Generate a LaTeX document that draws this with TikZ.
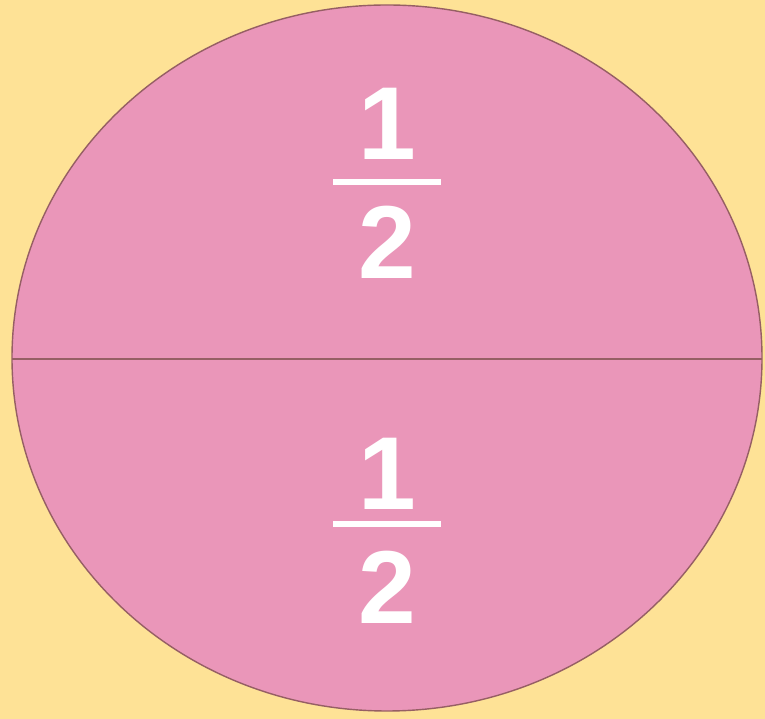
\documentclass[tikz,border=0pt]{standalone}
\usepackage{fontspec}
\setmainfont{Liberation Sans}
\usepackage{xcolor}
\usetikzlibrary{calc}
\definecolor{bgcolor}{RGB}{254,226,150}
\definecolor{halfpink}{RGB}{234,150,185}
\definecolor{halfborder}{RGB}{150,95,100}

\begin{document}
\begin{tikzpicture}[
    fracdigit/.style={text=white, font=\fontsize{59}{60}\selectfont\bfseries, inner sep=0pt, text height=1.5cm, text depth=0pt},
    fracbar/.style={white, line width=3.4pt}
]

% Background
\fill[bgcolor] (0,0) rectangle (15.3,14.38);

% Circle split in two halves
\draw[halfborder, line width=0.8pt, fill=halfpink] (7.74,7.22) ellipse [x radius=7.5cm, y radius=7.06cm];
\draw[halfborder, line width=1.1pt] (0.24,7.2) -- (15.24,7.2);

% Upper half
\node[fracdigit] (upnum) at (7.74,11.94) {1};
\node[fracdigit] (upden) at (7.74,9.56) {2};
\draw[fracbar] (6.66,10.74) -- (8.82,10.74);

% Lower half
\node[fracdigit] (lownum) at (7.74,4.94) {1};
\node[fracdigit] (lowden) at (7.74,2.66) {2};
\draw[fracbar] (6.66,3.9) -- (8.82,3.9);

\end{tikzpicture}
\end{document}
